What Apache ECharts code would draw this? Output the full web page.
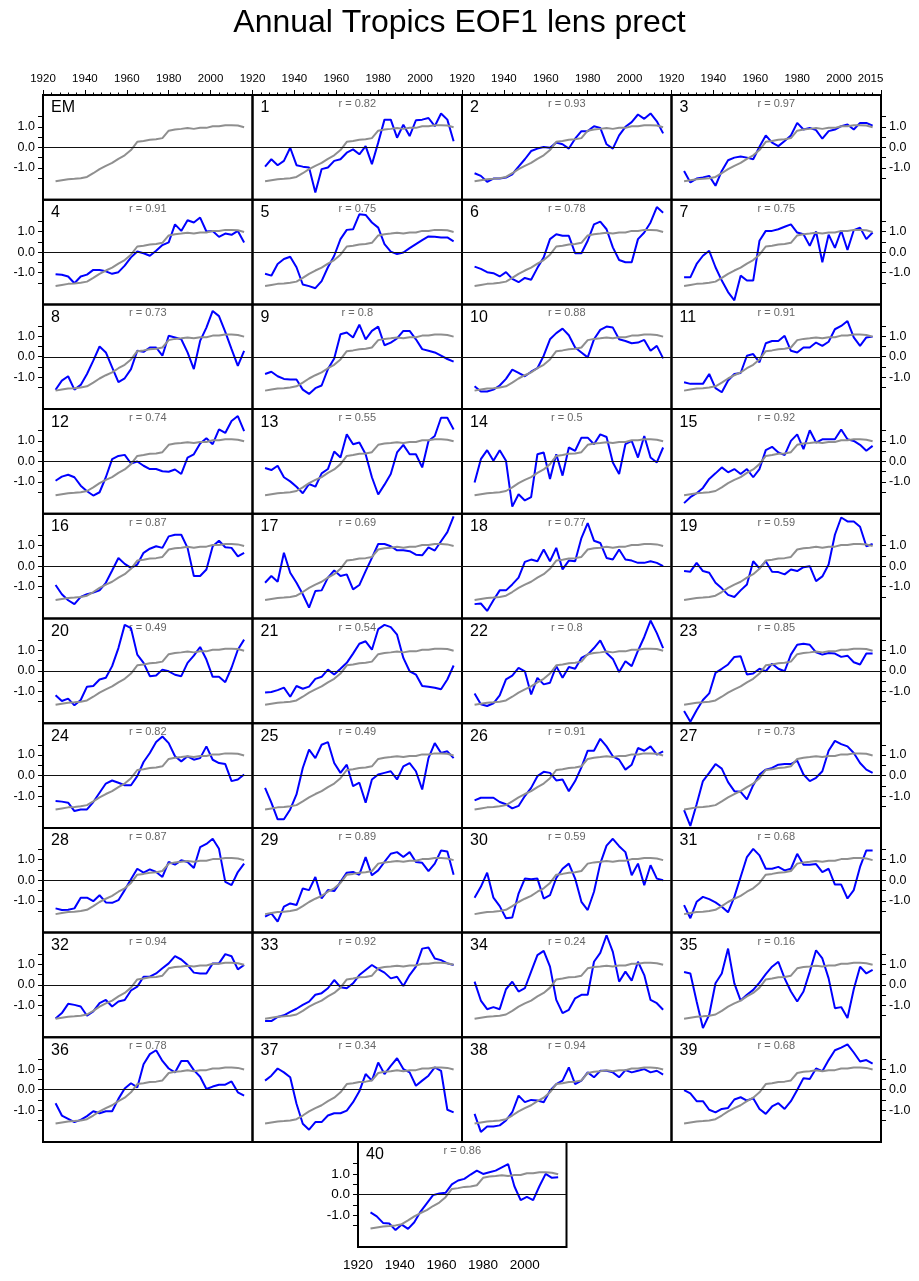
<!DOCTYPE html>
<html><head><meta charset="utf-8">
<script src="https://cdn.jsdelivr.net/npm/echarts@6/dist/echarts.min.js"></script>
<style>html,body{margin:0;padding:0;background:#fff}#c{width:919px;height:1281px}</style>
</head><body><div id="c"></div>
<script>
// ---------- data ----------
const years = [1926,1929,1932,1935,1938,1941,1944,1947,1950,1953,1956,1959,1962,1965,1968,1971,1974,1977,1980,1983,1986,1989,1992,1995,1998,2001,2004,2007,2010,2013,2016];
const ensembleMean = [-1.65,-1.6,-1.55,-1.53,-1.5,-1.44,-1.26,-1.06,-0.9,-0.76,-0.56,-0.39,-0.13,0.27,0.31,0.37,0.39,0.45,0.81,0.87,0.9,0.94,0.9,0.95,0.95,1.03,1.03,1.08,1.08,1.06,0.98];
const member1 = [-0.94,-0.58,-0.87,-0.66,-0.02,-0.87,-0.94,-0.98,-2.2,-1.06,-0.98,-0.66,-0.58,-0.26,-0.1,-0.34,0.06,-0.82,0.23,1.35,1.35,0.47,1.1,0.55,1.32,1.35,1.43,1.03,1.65,1.35,0.3];
const member2 = [-1.26,-1.39,-1.68,-1.52,-1.52,-1.47,-1.31,-0.94,-0.58,-0.18,-0.06,0.02,-0.02,0.23,0.15,-0.06,0.42,0.79,0.79,1.03,0.95,0.15,-0.06,0.58,1.0,1.23,1.6,1.39,1.65,1.27,0.68];
const member3 = [-1.15,-1.71,-1.52,-1.47,-1.39,-1.87,-1.15,-0.63,-0.5,-0.45,-0.5,-0.58,0.03,0.58,0.23,0.06,0.31,0.58,1.19,0.87,0.95,0.84,0.42,0.79,0.87,1.03,1.11,0.87,1.19,1.19,1.06];
const member4 = [-1.08,-1.11,-1.19,-1.52,-1.19,-1.1,-0.87,-0.87,-0.94,-1.06,-0.98,-0.66,-0.26,0.03,-0.06,-0.18,0.06,0.34,0.47,1.35,1.03,1.55,1.44,1.68,1.0,1.03,0.74,0.9,0.84,1.03,0.47];
const member5 = [-1.06,-1.15,-0.58,-0.34,-0.23,-0.74,-1.58,-1.66,-1.76,-1.42,-0.74,-0.18,0.63,1.08,1.11,1.84,1.81,1.44,1.19,0.39,0.02,-0.1,-0.02,0.19,0.39,0.58,0.76,0.74,0.71,0.71,0.52];
const member6 = [-0.71,-0.82,-0.98,-1.03,-1.19,-0.98,-1.31,-1.47,-1.26,-1.35,-0.77,-0.26,0.63,0.87,0.79,0.79,-0.06,-0.06,0.55,1.35,1.48,1.11,0.23,-0.39,-0.5,-0.5,0.63,0.95,1.44,2.19,1.92];
const member7 = [-1.23,-1.23,-0.58,-0.18,0.06,-0.74,-1.39,-1.95,-2.35,-1.15,-1.39,-1.39,0.55,1.03,1.03,1.11,1.23,1.35,0.95,0.87,0.3,1.0,-0.5,0.85,0.2,1.05,0.1,1.06,1.19,0.63,0.95];
const member8 = [-1.61,-1.16,-0.95,-1.6,-1.37,-0.84,-0.19,0.5,0.21,-0.52,-1.24,-1.05,-0.6,0.29,0.24,0.45,0.45,0.05,1.02,0.94,0.85,0.21,-0.6,0.77,1.42,2.23,1.98,1.21,0.37,-0.44,0.29];
const member9 = [-0.84,-0.73,-0.95,-1.08,-1.11,-1.11,-1.6,-1.81,-1.53,-1.4,-0.6,-0.08,1.1,1.18,0.94,1.56,0.85,1.26,1.47,0.56,0.69,0.89,1.26,1.26,0.85,0.37,0.29,0.21,0.05,-0.11,-0.24];
const member10 = [-1.44,-1.69,-1.69,-1.6,-1.4,-1.08,-0.63,-0.79,-0.95,-0.73,-0.56,0.05,0.85,1.15,1.37,1.05,0.45,0.21,-0.03,0.85,1.31,1.47,1.42,0.85,0.77,0.66,0.69,0.82,0.29,0.53,-0.08];
const member11 = [-1.24,-1.32,-1.32,-1.32,-0.84,-1.53,-1.73,-1.16,-0.84,-0.79,0.05,0.13,-0.27,0.66,0.77,0.77,1.02,0.29,0.21,0.45,0.45,0.69,0.53,0.73,1.34,1.5,1.74,0.94,0.53,0.94,0.98];
const member12 = [-0.94,-0.74,-0.65,-0.77,-1.18,-1.45,-1.66,-1.5,-0.77,0.11,0.27,0.32,-0.1,0.0,-0.21,-0.37,-0.37,-0.48,-0.5,-0.39,-0.61,0.19,0.35,0.87,1.13,0.84,1.56,1.39,1.97,2.21,1.48];
const member13 = [-0.32,-0.42,-0.21,-0.77,-0.97,-1.23,-1.55,-1.1,-1.23,-0.58,-0.37,0.48,0.19,1.32,0.84,0.92,0.35,-0.77,-1.61,-1.13,-0.61,0.44,0.81,0.35,0.35,-0.29,1.0,1.24,2.13,2.13,1.56];
const member14 = [-1.02,0.11,0.55,0.03,0.55,0.03,-2.2,-1.6,-1.9,-1.74,0.35,0.44,-0.85,0.35,-0.69,0.68,0.52,1.16,1.16,0.84,1.32,1.19,-0.05,-0.61,0.84,1.0,0.19,1.24,0.19,-0.05,0.68];
const member15 = [-2.03,-1.74,-1.55,-1.29,-0.85,-0.58,-0.29,-0.53,-0.37,-0.61,-0.37,-0.77,-0.37,0.55,0.71,0.44,0.31,1.0,1.32,0.6,1.52,0.92,1.08,1.08,1.08,1.56,1.08,1.0,0.81,0.52,0.76];
const member16 = [-0.92,-1.37,-1.66,-1.85,-1.5,-1.37,-1.29,-1.18,-0.81,-0.21,0.4,0.11,-0.08,0.08,0.65,0.85,0.97,0.89,1.45,1.53,1.53,0.89,-0.48,-0.48,-0.16,0.97,1.24,0.92,0.89,0.48,0.65];
const member17 = [-0.81,-0.48,-0.76,0.65,-0.32,-0.81,-1.37,-2.02,-1.21,-1.18,-0.56,-0.21,-0.48,-0.4,-1.13,-0.92,-0.24,0.4,1.08,1.08,0.97,0.77,0.77,0.73,0.56,0.53,0.92,0.76,1.21,1.66,2.42];
const member18 = [-1.85,-1.82,-2.18,-1.66,-1.18,-1.18,-0.89,-0.56,0.21,0.32,0.24,0.81,0.24,0.89,-0.16,0.27,0.24,1.37,2.1,1.24,1.13,0.4,0.32,0.81,0.32,0.27,0.16,0.16,0.24,0.16,0.0];
const member19 = [-0.24,-0.27,0.16,-0.24,-0.32,-0.81,-1.08,-1.4,-1.5,-1.18,-0.89,0.24,-0.11,0.24,-0.27,-0.29,-0.4,-0.16,-0.24,-0.05,0.0,-0.73,-0.5,0.08,1.53,2.37,2.18,2.18,1.92,0.97,1.08];
const member20 = [-1.19,-1.47,-1.35,-1.68,-1.42,-0.77,-0.74,-0.42,-0.34,0.23,1.11,2.24,2.08,0.79,0.39,-0.26,-0.23,0.06,-0.02,-0.19,-0.26,0.39,0.74,1.16,0.55,-0.29,-0.29,-0.55,0.15,1.03,1.52];
const member21 = [-1.06,-1.03,-0.94,-0.82,-1.26,-0.74,-0.87,-0.77,-0.39,-0.29,0.06,-0.18,0.1,0.39,0.84,1.32,1.44,1.03,2.03,2.24,2.13,1.76,0.63,-0.02,-0.18,-0.74,-0.77,-0.82,-0.9,-0.42,0.26];
const member22 = [-1.1,-1.63,-1.71,-1.58,-1.19,-0.42,-0.23,0.15,-0.02,-1.15,-0.34,-0.66,-0.58,0.23,-0.34,0.19,0.1,0.63,0.79,1.11,1.48,0.87,0.58,-0.06,0.47,0.23,0.98,1.65,2.45,1.84,1.11];
const member23 = [-1.95,-2.48,-1.92,-1.42,-1.1,-0.1,0.1,0.31,0.68,0.71,-0.18,-0.13,0.1,-0.02,0.35,0.1,-0.02,0.79,1.27,1.32,1.27,0.9,0.79,0.87,0.84,0.68,0.74,0.42,0.31,0.84,0.84];
const member24 = [-1.24,-1.27,-1.32,-1.73,-1.65,-1.65,-1.29,-0.84,-0.39,-0.24,-0.35,-0.47,-0.47,-0.03,0.66,1.1,1.63,1.9,1.58,0.94,0.69,0.94,0.77,0.85,1.42,0.77,0.61,0.56,-0.27,-0.19,0.05];
const member25 = [-0.6,-1.32,-2.13,-2.13,-1.65,-0.92,0.37,1.26,0.85,1.5,1.63,0.61,0.13,0.53,-0.52,-0.35,-1.32,-0.19,0.05,0.13,0.21,-0.19,0.45,0.61,0.21,-0.68,0.85,1.58,1.1,1.18,0.85];
const member26 = [-1.21,-1.08,-1.08,-1.08,-1.29,-1.4,-1.6,-1.48,-1.0,-0.6,-0.03,0.18,0.13,-0.24,-0.19,-0.76,-0.27,0.4,1.21,1.21,1.79,1.42,0.94,0.77,0.29,0.53,1.34,1.21,1.42,1.02,1.18];
const member27 = [-1.69,-2.45,-1.4,-0.27,0.13,0.56,0.34,-0.32,-0.76,-0.79,-1.16,-0.47,0.05,0.29,0.37,0.53,0.56,0.56,0.73,0.05,-0.27,-0.11,0.21,1.21,1.69,1.53,1.42,1.1,0.61,0.29,0.13];
const member28 = [-1.37,-1.45,-1.44,-1.37,-0.85,-0.85,-1.02,-0.73,-1.08,-1.1,-0.97,-0.48,0.05,0.56,0.37,0.53,0.4,0.16,0.89,0.76,0.97,0.89,0.6,1.61,1.77,2.02,1.53,-0.08,-0.24,0.4,0.81];
const member29 = [-1.77,-1.61,-2.02,-1.29,-1.13,-1.21,-0.4,-0.48,0.16,-0.89,-0.48,-0.53,-0.08,0.37,0.4,0.27,1.13,0.24,0.48,0.89,1.29,1.37,1.13,1.37,0.89,0.85,0.44,0.81,1.45,1.4,0.27];
const member30 = [-0.85,-0.32,0.37,-0.85,-1.26,-1.85,-1.82,-0.65,0.08,0.05,0.08,-0.89,-0.73,0.11,0.56,0.81,0.08,-1.05,-1.45,-0.56,0.81,1.69,2.02,1.66,1.37,0.24,0.81,-0.24,0.73,0.08,0.0];
const member31 = [-1.21,-1.85,-1.05,-0.81,-0.92,-1.08,-1.29,-1.56,-0.81,0.16,1.13,1.53,1.21,0.56,0.56,0.65,0.48,0.56,1.29,0.76,0.76,0.79,0.4,0.56,-0.21,-0.21,-0.89,-0.48,0.65,1.45,1.45];
const member32 = [-1.63,-1.37,-0.92,-0.97,-1.05,-1.5,-1.29,-0.89,-0.73,-1.05,-0.81,-0.73,-0.27,-0.08,0.4,0.4,0.56,0.81,1.05,1.4,1.24,0.97,0.6,0.56,0.56,1.05,1.05,1.5,1.4,0.76,0.97];
const member33 = [-1.76,-1.76,-1.56,-1.48,-1.31,-1.16,-0.97,-0.81,-0.48,-0.4,-0.16,0.24,-0.11,-0.16,0.08,0.48,0.73,0.97,0.77,0.6,0.32,0.4,-0.05,0.48,0.89,1.77,1.82,1.29,1.21,1.05,0.97];
const member34 = [0.16,-0.76,-1.18,-1.08,-1.18,-0.21,0.16,-0.32,-0.16,0.65,1.45,1.66,0.89,-0.73,-1.37,-1.21,-0.65,-0.48,-0.48,1.13,1.56,2.42,1.61,0.16,0.65,0.21,1.13,0.48,-0.73,-0.89,-1.21];
const member35 = [0.63,0.56,-0.81,-2.1,-1.45,0.08,0.56,1.77,0.08,-0.76,-0.48,-0.24,0.11,0.53,0.89,1.13,0.32,-0.32,-0.81,-0.32,0.65,1.69,1.29,0.32,-1.13,-1.08,-1.61,-0.21,0.89,0.56,0.73];
const member36 = [-0.66,-1.26,-1.42,-1.58,-1.47,-1.29,-1.05,-1.15,-1.05,-1.05,-0.45,0.06,0.31,0.11,1.24,1.73,1.92,1.4,1.03,0.84,1.4,1.4,0.95,0.63,0.03,0.15,0.24,0.24,0.4,-0.13,-0.29];
const member37 = [0.44,0.68,1.03,0.84,0.6,-0.69,-1.66,-1.95,-1.58,-1.58,-1.26,-1.15,-1.15,-1.02,-0.61,-0.08,0.76,0.44,1.32,0.76,1.16,1.53,1.0,0.84,0.19,0.44,0.68,1.08,0.92,-0.98,-1.11];
const member38 = [-1.18,-2.06,-1.79,-1.79,-1.74,-1.5,-1.1,-0.29,-0.61,-0.5,-0.53,-0.61,-0.05,0.27,0.44,1.08,0.27,0.44,0.84,0.6,0.92,0.92,0.84,0.6,0.95,0.84,0.92,1.0,0.84,0.92,0.73];
const member39 = [-0.02,-0.18,-0.56,-0.56,-0.98,-1.11,-0.94,-0.89,-0.48,-0.37,-0.53,-0.42,-0.94,-1.18,-0.82,-0.66,-0.94,-0.56,-0.02,0.56,0.52,1.03,0.9,1.44,1.92,2.05,2.21,1.81,1.37,1.44,1.27];
const member40 = [-0.87,-1.06,-1.38,-1.41,-1.73,-1.46,-1.67,-1.35,-0.83,-0.43,-0.03,0.05,0.08,0.49,0.68,0.76,0.97,1.16,1.0,1.08,1.16,1.32,1.48,0.4,-0.27,-0.11,-0.27,0.4,1.0,0.81,0.84];
const rValues = [0.82,0.93,0.97,0.91,0.75,0.78,0.75,0.73,0.8,0.88,0.91,0.74,0.55,0.5,0.92,0.87,0.69,0.77,0.59,0.49,0.54,0.8,0.85,0.82,0.49,0.91,0.73,0.87,0.89,0.59,0.68,0.94,0.92,0.24,0.16,0.78,0.34,0.94,0.68,0.86];
const xLabelYears = [1920,1940,1960,1980,2000];
const xLabelYearsLast = [1920,1940,1960,1980,2000,2015];
const yTickValues = [-1.5,-1,-0.5,0,0.5,1,1.5];
const yLabelValues = [-1,0,1];
const titleText = 'Annual Tropics EOF1 lens prect';

const members = [member1,member2,member3,member4,member5,member6,member7,member8,member9,member10,
  member11,member12,member13,member14,member15,member16,member17,member18,member19,member20,
  member21,member22,member23,member24,member25,member26,member27,member28,member29,member30,
  member31,member32,member33,member34,member35,member36,member37,member38,member39,member40];

// ---------- layout ----------
const FONT = '"Liberation Sans", Arial, Helvetica, sans-serif';
const colLeft = 43, colW = 209.5, rowTop = 95, rowH = 104.7;
const grids = [], xAxes = [], yAxes = [], series = [], graphics = [];
const toPairs = arr => years.map((y, i) => [y, arr[i]]);
const zeroLine = {
  silent: true, symbol: ['none', 'none'], label: { show: false },
  lineStyle: { color: '#111', width: 1, type: 'solid' },
  emphasis: { disabled: true }, data: [{ yAxis: 0 }], animation: false
};

for (let p = 0; p <= 40; p++) {
  let gx, gy, gw, gh, row, col;
  if (p < 40) {
    row = Math.floor(p / 4); col = p % 4;
    gx = colLeft + col * colW; gy = rowTop + row * rowH; gw = colW; gh = rowH;
  } else {
    row = 10; col = -1; gx = 358; gy = rowTop + 10 * rowH; gw = 208.5; gh = 105;
  }
  grids.push({ left: gx, top: gy, width: gw, height: gh, show: true, borderColor: '#000',
    borderWidth: 2, backgroundColor: 'rgba(0,0,0,0)', containLabel: false, outerBoundsMode: 'none' });

  const xa = { type: 'value', gridIndex: p, min: 1920, max: 2020, interval: 20,
    axisLine: { show: false, onZero: false }, splitLine: { show: false } };
  if (row === 0) {
    Object.assign(xa, { position: 'top',
      axisTick: { show: true, length: 5, lineStyle: { color: '#000', width: 1 } },
      minorTick: { show: true, splitNumber: 5, length: 2.5, lineStyle: { color: '#000', width: 1 } },
      axisLabel: { show: true, customValues: col === 3 ? xLabelYearsLast : xLabelYears,
        formatter: v => String(v), fontSize: 11.5, color: '#000', fontFamily: FONT, margin: 10 } });
  } else if (p === 40) {
    Object.assign(xa, { position: 'bottom', axisTick: { show: false },
      axisLabel: { show: true, customValues: xLabelYears, formatter: v => String(v),
        fontSize: 13.5, color: '#000', fontFamily: FONT, margin: 11 } });
  } else {
    xa.show = false;
  }
  xAxes.push(xa);

  const ya = { type: 'value', gridIndex: p, min: -2.55, max: 2.55,
    axisLine: { show: false, onZero: false }, splitLine: { show: false } };
  if (col === 0 || col === 3 || p === 40) {
    Object.assign(ya, { position: col === 3 ? 'right' : 'left',
      axisTick: { show: true, customValues: yTickValues, length: 5, lineStyle: { color: '#000', width: 1 } },
      axisLabel: { show: true, customValues: yLabelValues, formatter: v => Number(v).toFixed(1),
        fontSize: p === 40 ? 13.5 : 12.5, color: '#000', fontFamily: FONT, margin: 8 } });
  } else {
    ya.show = false;
  }
  yAxes.push(ya);

  if (p > 0) {
    series.push({ type: 'line', xAxisIndex: p, yAxisIndex: p, data: toPairs(members[p - 1]),
      showSymbol: false, symbol: 'none', z: 2, silent: true, emphasis: { disabled: true },
      lineStyle: { color: '#0000ff', width: 2 }, markLine: zeroLine });
  }
  const g = { type: 'line', xAxisIndex: p, yAxisIndex: p, data: toPairs(ensembleMean),
    showSymbol: false, symbol: 'none', z: 3, silent: true, emphasis: { disabled: true },
    lineStyle: { color: '#8f8f8f', width: 2 } };
  if (p === 0) g.markLine = zeroLine;
  series.push(g);

  graphics.push({ type: 'text', x: gx + 8, y: gy + 5, silent: true,
    style: { text: p === 0 ? 'EM' : String(p), fontSize: 16, fontFamily: FONT, fill: '#000' } });
  if (p > 0) {
    graphics.push({ type: 'text', x: gx + gw / 2, y: gy + 9, silent: true,
      style: { text: 'r = ' + String(rValues[p - 1]), fontSize: 11, fontFamily: FONT, fill: '#666',
        textAlign: 'center', textVerticalAlign: 'middle', align: 'center', verticalAlign: 'middle' } });
  }
}

const chart = echarts.init(document.getElementById('c'), null, { renderer: 'canvas' });
chart.setOption({
  animation: false,
  backgroundColor: '#fff',
  title: { text: titleText, left: 'center', top: 2,
    textStyle: { fontSize: 32, fontWeight: 'normal', color: '#000', fontFamily: FONT } },
  grid: grids, xAxis: xAxes, yAxis: yAxes, series: series, graphic: graphics
});
</script>
</body></html>
